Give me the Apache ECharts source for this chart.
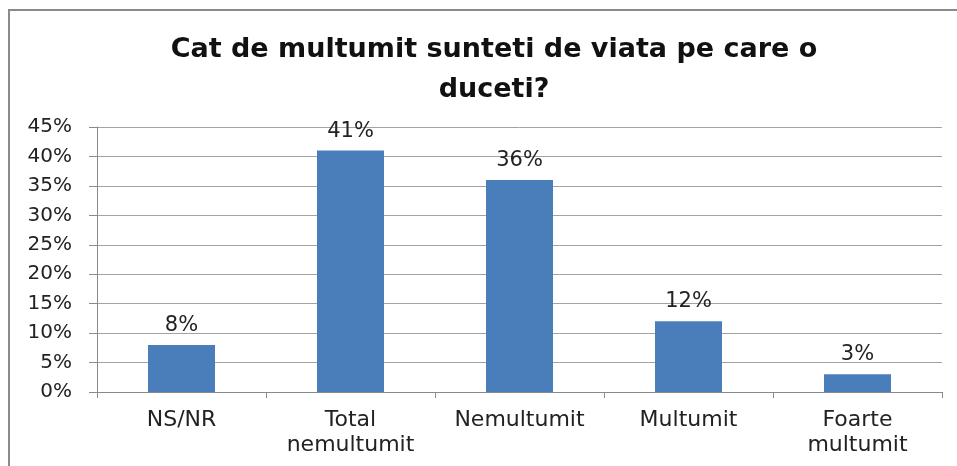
<!DOCTYPE html>
<html>
<head>
<meta charset="utf-8">
<script src="https://cdn.jsdelivr.net/npm/echarts@6/dist/echarts.min.js"></script>
<style>
  html, body { margin: 0; padding: 0; background: #fff; }
  #chart { width: 957px; height: 466px; }
</style>
</head>
<body>
<div id="chart"></div>
<script>
var categories = ['NS/NR', 'Total\nnemultumit', 'Nemultumit', 'Multumit', 'Foarte\nmultumit'];
var values = [8, 41, 36, 12, 3];
var titleText = 'Cat de multumit sunteti de viata pe care o\nduceti?';

var chart = echarts.init(document.getElementById('chart'));
var option = {
    animation : false,
    title : {
        text : titleText,
        left : 489,
        top : 25,
        textAlign : 'center',
        textStyle : {
            fontFamily : 'DejaVu Sans',
            fontWeight : 'bold',
            fontSize : 27,
            lineHeight : 40,
            color : '#111'
        }
    },
    // rahmen um das diagramm
    graphic : [{
        type : 'rect',
        shape : { x : 9, y : 10, width : 1000, height : 600 },
        style : { fill : 'none', stroke : '#8a8a8a', lineWidth : 2 },
        silent : true
    }],
    grid : {
        left : 97,
        right : 15,
        top : 127,
        bottom : 74
    },
    xAxis : {
        type : 'category',
        data : categories,
        axisLine : { lineStyle : { color : '#8a8a8a', width : 1 } },
        axisTick : { show : true, length : 6, lineStyle : { color : '#8a8a8a' } },
        axisLabel : {
            interval : 0,
            margin : 16,
            fontFamily : 'DejaVu Sans',
            fontSize : 22,
            lineHeight : 25,
            color : '#222'
        }
    },
    yAxis : {
        type : 'value',
        min : 0,
        max : 45,
        interval : 5,
        axisLine : { show : true, lineStyle : { color : '#8a8a8a', width : 1 } },
        axisTick : { show : true, length : 8, lineStyle : { color : '#8a8a8a' } },
        splitLine : { lineStyle : { color : '#a3a3a3', width : 1 } },
        axisLabel : {
            formatter : '{value}%',
            margin : 25,
            fontFamily : 'DejaVu Sans',
            fontSize : 20,
            color : '#222'
        }
    },
    series : [{
        type : 'bar',
        data : values,
        barWidth : 67,
        itemStyle : { color : '#4a7ebb' },
        label : {
            show : true,
            position : 'top',
            distance : 9,
            formatter : '{c}%',
            fontFamily : 'DejaVu Sans',
            fontSize : 21,
            color : '#222'
        }
    }]
};
chart.setOption(option);
</script>
</body>
</html>
